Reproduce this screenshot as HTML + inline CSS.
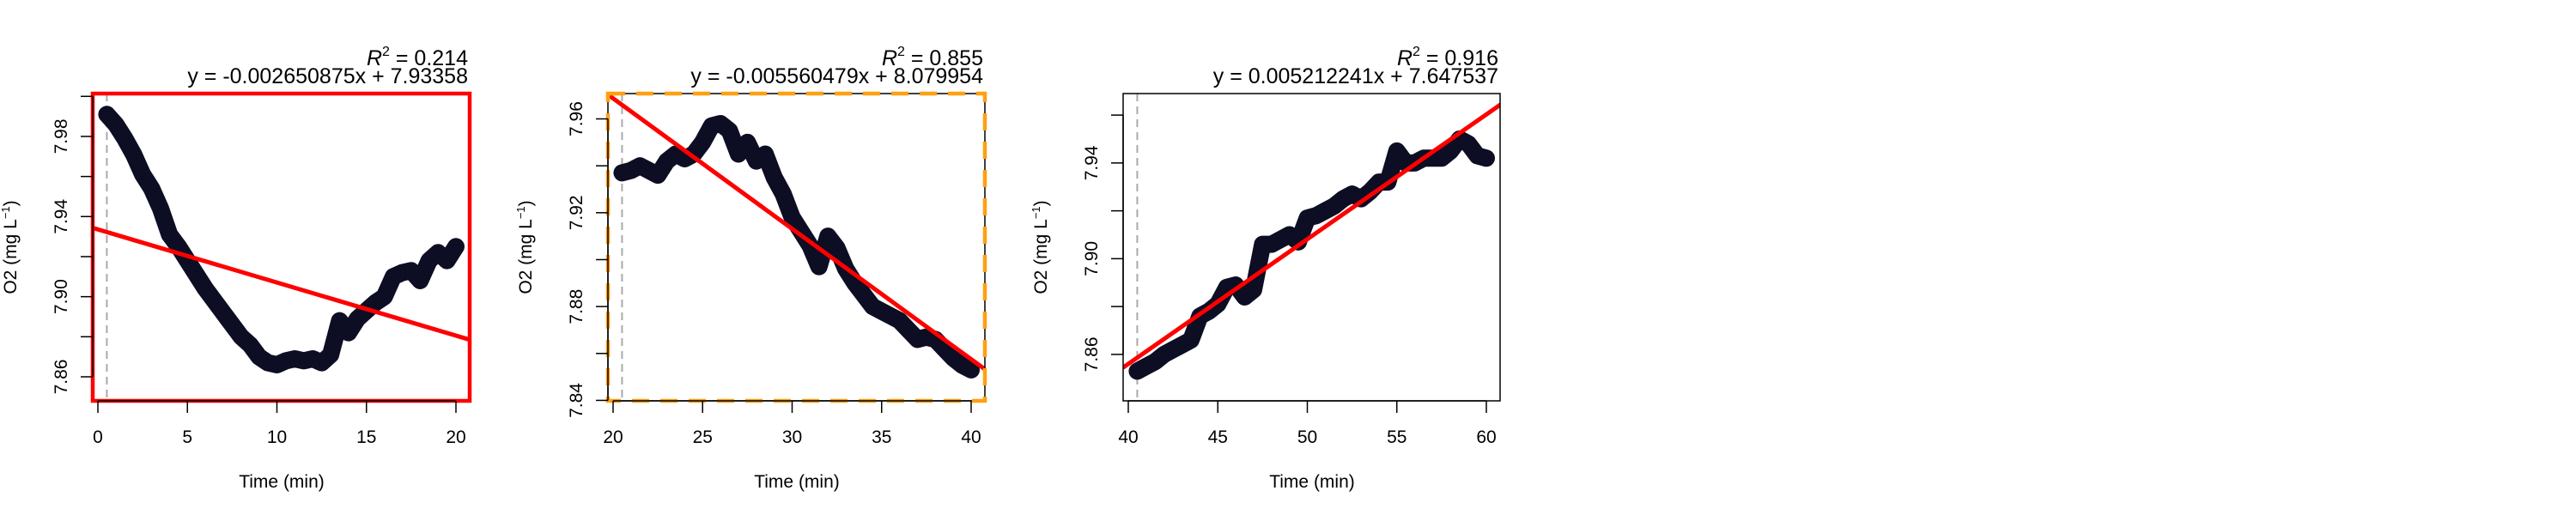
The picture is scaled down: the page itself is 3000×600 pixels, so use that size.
<!DOCTYPE html>
<html><head><meta charset="utf-8"><style>
html,body{margin:0;padding:0;background:#fff;}
svg{display:block;font-family:"Liberation Sans",Arial,sans-serif;}
</style></head><body>
<svg id="chart" width="3000" height="600" viewBox="0 0 3000 600" xmlns="http://www.w3.org/2000/svg"></svg>
<script>
// ---- data ----
const times1 = [0.5,1,1.5,2,2.5,3,3.5,4,4.5,5,5.5,6,6.5,7,7.5,8,8.5,9,9.5,10,10.5,11,11.5,12,12.5,13,13.5,14,14.5,15,15.5,16,16.5,17,17.5,18,18.5,19,19.5,20];
const o2_1 = [7.991,7.986,7.979,7.971,7.961,7.954,7.944,7.931,7.925,7.918,7.911,7.904,7.898,7.892,7.886,7.880,7.876,7.870,7.867,7.866,7.868,7.869,7.868,7.869,7.867,7.871,7.888,7.882,7.889,7.893,7.897,7.900,7.910,7.912,7.913,7.908,7.918,7.922,7.918,7.925];
const times2 = [20.5,21,21.5,22,22.5,23,23.5,24,24.5,25,25.5,26,26.5,27,27.5,28,28.5,29,29.5,30,30.5,31,31.5,32,32.5,33,33.5,34,34.5,35,35.5,36,36.5,37,37.5,38,38.5,39,39.5,40];
const o2_2 = [7.937,7.938,7.940,7.938,7.936,7.942,7.945,7.943,7.945,7.950,7.957,7.958,7.955,7.945,7.950,7.942,7.945,7.935,7.928,7.918,7.912,7.906,7.897,7.910,7.905,7.896,7.890,7.885,7.880,7.878,7.876,7.874,7.870,7.866,7.867,7.866,7.862,7.858,7.855,7.853];
const times3 = [40.5,41,41.5,42,42.5,43,43.5,44,44.5,45,45.5,46,46.5,47,47.5,48,48.5,49,49.5,50,50.5,51,51.5,52,52.5,53,53.5,54,54.5,55,55.5,56,56.5,57,57.5,58,58.5,59,59.5,60];
const o2_3 = [7.853,7.855,7.857,7.860,7.862,7.864,7.866,7.876,7.878,7.881,7.888,7.889,7.884,7.887,7.906,7.906,7.908,7.910,7.907,7.917,7.918,7.920,7.922,7.925,7.927,7.925,7.928,7.932,7.932,7.945,7.940,7.940,7.942,7.942,7.942,7.945,7.950,7.948,7.943,7.942];
const slopes = [-0.002650875,-0.005560479,0.005212241];
const intercepts = [7.93358,8.079954,7.647537];
const r2 = ["0.214","0.855","0.916"];
const eqText = ["y = -0.002650875x + 7.93358","y = -0.005560479x + 8.079954","y = 0.005212241x + 7.647537"];
const xTicks = [[0,5,10,15,20],[20,25,30,35,40],[40,45,50,55,60]];
const yTicks = [[7.86,7.88,7.90,7.92,7.94,7.96,7.98,8.00],[7.84,7.86,7.88,7.90,7.92,7.94,7.96],[7.86,7.88,7.90,7.92,7.94,7.96]];
const yLabels = [["7.86","7.90","7.94","7.98"],["7.84","7.88","7.92","7.96"],["7.86","7.90","7.94"]];
const yRanges = [[7.848,8.0014],[7.8398,7.9708],[7.8406,7.969]];
const startLines = [0.5,20.5,40.5];

const NS="http://www.w3.org/2000/svg";
const svg=document.getElementById('chart');
function mk(tag,attrs,parent){const e=document.createElementNS(NS,tag);for(const k in attrs)e.setAttribute(k,attrs[k]);(parent||svg).appendChild(e);return e;}

const panels=[[times1,o2_1],[times2,o2_2],[times3,o2_3]];
panels.forEach((p,i)=>{
  const ox=i*600, L=ox+108, R=ox+547, T=109, B=467;
  const x0=xTicks[i][0];
  const xs=v=>ox+114+(v-x0)*20.85;
  const [ymin,ymax]=yRanges[i];
  const ys=v=>B-(v-ymin)/(ymax-ymin)*(B-T);
  const g=mk('g',{});
  
  
  const clipId='clip'+i;
  const cp=mk('clipPath',{id:clipId},g);mk('rect',{x:L,y:T,width:R-L,height:B-T},cp);
  const sl=mk('line',{x1:xs(startLines[i]),x2:xs(startLines[i]),y1:T,y2:B,stroke:'#aaa','stroke-width':2,'stroke-dasharray':'9,6'},g);
  
  
  const pts=p[0].map((t,j)=>xs(t)+','+ys(p[1][j])).join(' ');
  const band=mk('polyline',{points:pts,fill:'none',stroke:'#0d0d24','stroke-width':20,'stroke-linejoin':'round','stroke-linecap':'round','clip-path':'url(#'+clipId+')'},g);
  
  
  p[0].forEach((t,j)=>{
    const c=mk('circle',{cx:xs(t),cy:ys(p[1][j]),r:3.5,fill:'none',stroke:'#0d0d24','stroke-width':1.8},g);
    
    
  });
  const xa=x0-0.3, xb=x0+20.8;
  const rl=mk('line',{x1:xs(xa),y1:ys(slopes[i]*xa+intercepts[i]),x2:xs(xb),y2:ys(slopes[i]*xb+intercepts[i]),stroke:'#f00','stroke-width':5,'clip-path':'url(#'+clipId+')'},g);
  
  
  let bx;
  if(i===0){bx=mk('rect',{x:L,y:T,width:R-L,height:B-T,fill:'none',stroke:'#f00','stroke-width':4.5},g);}
  else if(i===1){mk('rect',{x:L,y:T,width:R-L,height:B-T,fill:'none',stroke:'#000','stroke-width':1.5},g);
    bx=mk('rect',{x:L,y:T,width:R-L,height:B-T,fill:'none',stroke:'#ffa012','stroke-width':4.5,'stroke-dasharray':'20,13'},g);}
  else {bx=mk('rect',{x:L,y:T,width:R-L,height:B-T,fill:'none',stroke:'#000','stroke-width':1.5},g);}
  
  
  const xt=xTicks[i];
  mk('line',{x1:xs(xt[0]),x2:xs(xt[xt.length-1]),y1:B,y2:B,stroke:'#000','stroke-width':1.5},g);
  xt.forEach(v=>{
    mk('line',{x1:xs(v),x2:xs(v),y1:B,y2:B+14,stroke:'#000','stroke-width':1.5},g);
    const t=mk('text',{x:xs(v),y:516,'text-anchor':'middle','font-size':21},g);t.textContent=String(v);
    
    
  });
  const yt=yTicks[i];
  mk('line',{x1:L,x2:L,y1:ys(yt[0]),y2:ys(yt[yt.length-1]),stroke:'#000','stroke-width':1.5},g);
  yt.forEach(v=>{mk('line',{x1:L-14,x2:L,y1:ys(v),y2:ys(v),stroke:'#000','stroke-width':1.5},g);});
  yLabels[i].forEach(s=>{
    const yy=ys(parseFloat(s));
    const t=mk('text',{x:0,y:0,'text-anchor':'middle','font-size':21,transform:'translate('+(ox+78)+','+yy+') rotate(-90)'},g);t.textContent=s;
    
    
  });
  const xtl=mk('text',{x:ox+328,y:568,'text-anchor':'middle','font-size':21},g);xtl.textContent='Time (min)';
  
  
  const ytl=mk('text',{x:0,y:0,'text-anchor':'middle','font-size':21,transform:'translate('+(ox+19)+',288) rotate(-90)'},g);
  ytl.innerHTML='O2 (mg L<tspan font-size="13" dy="-8">−1</tspan><tspan dy="8">)</tspan>';
  
  
  const rt=mk('text',{x:ox+545,y:76,'text-anchor':'end','font-size':25},g);
  rt.innerHTML='<tspan font-style="italic">R</tspan><tspan font-size="16" dy="-11">2</tspan><tspan dy="11"> = '+r2[i]+'</tspan>';
  
  
  const et=mk('text',{x:ox+545,y:97,'text-anchor':'end','font-size':25},g);et.textContent=eqText[i];
  
  
});
</script>
</body></html>
